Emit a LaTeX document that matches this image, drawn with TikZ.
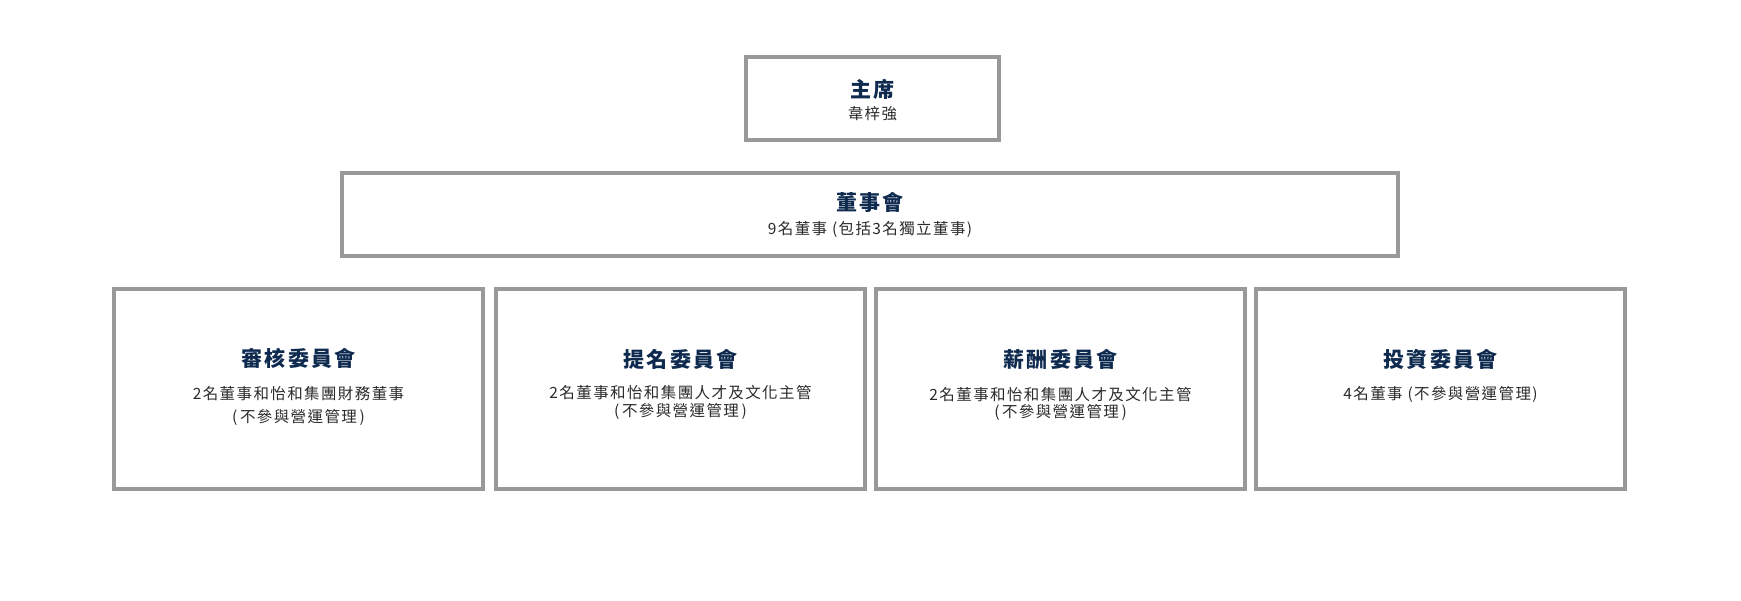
\documentclass[tikz,border=0pt]{standalone}
\usepackage{fontspec}
\newfontfamily\titlefont[LetterSpace=11]{Noto Sans CJK TC}
\newfontfamily\subfont[LetterSpace=9]{Noto Sans CJK TC}
\definecolor{bordergrey}{HTML}{999999}
\definecolor{navy}{HTML}{0E2A4F}
\definecolor{subgrey}{HTML}{2B2B2B}
\tikzset{
  orgbox/.style={draw=bordergrey, line width=4pt, fill=white, inner sep=0pt},
  titletext/.style={inner sep=0pt, text=navy, font=\titlefont\bfseries\fontsize{21}{25}\selectfont},
  subtext/.style={inner sep=0pt, text=subgrey, font=\subfont\fontsize{15.5}{19}\selectfont}
}
\begin{document}
\begin{tikzpicture}[x=1pt,y=-1pt]
\useasboundingbox (0,0) rectangle (1741,601);
% boxes
\node[orgbox, minimum width=253pt, minimum height=83pt] (chair) at (872.5,98.5) {};
\node[orgbox, minimum width=1056pt, minimum height=83pt] (board) at (870,214.5) {};
\node[orgbox, minimum width=369pt, minimum height=200pt] (audit) at (298.5,389) {};
\node[orgbox, minimum width=369pt, minimum height=200pt] (nom) at (680.5,389) {};
\node[orgbox, minimum width=369pt, minimum height=200pt] (rem) at (1060.5,389) {};
\node[orgbox, minimum width=369pt, minimum height=200pt] (inv) at (1440.5,389) {};
% texts
\node[titletext] (chairT) at (872.5,89) {主席};
\node[subtext] (chairS) at (872.5,113.5) {韋梓強};
\node[titletext] (boardT) at (870,202) {董事會};
\node[subtext] (boardS) at (870,229.5) {9名董事 (包括3名獨立董事)};
\node[titletext] (auditT) at (298.5,358) {審核委員會};
\node[subtext] (auditS1) at (298.5,394) {2名董事和怡和集團財務董事};
\node[subtext] (auditS2) at (298.5,417) {(\,不參與營運管理\,)};
\node[titletext] (nomT) at (680.5,359) {提名委員會};
\node[subtext] (nomS1) at (680.5,392.5) {2名董事和怡和集團人才及文化主管};
\node[subtext] (nomS2) at (680.5,411.5) {(\,不參與營運管理\,)};
\node[titletext] (remT) at (1060.5,359) {薪酬委員會};
\node[subtext] (remS1) at (1060.5,394.5) {2名董事和怡和集團人才及文化主管};
\node[subtext] (remS2) at (1060.5,412.5) {(\,不參與營運管理\,)};
\node[titletext] (invT) at (1440.5,359) {投資委員會};
\node[subtext] (invS) at (1440.5,394) {4名董事 (不參與營運管理)};
\end{tikzpicture}
\end{document}
